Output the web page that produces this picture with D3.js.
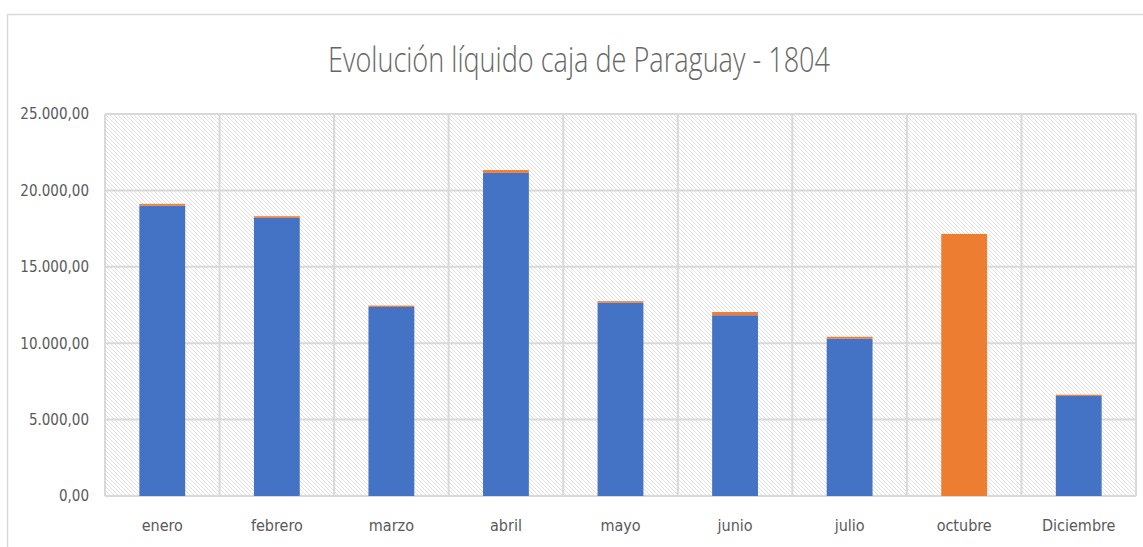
<!DOCTYPE html>
<html>
<head>
<meta charset="utf-8">
<script src="https://cdn.jsdelivr.net/npm/d3@7"></script>
<style>
  body { margin: 0; background: #fff; }
  text { font-family: "DejaVu Sans Condensed", sans-serif; fill: #595959; }
</style>
</head>
<body>
<div id="chart"></div>
<script>
var months = ["enero", "febrero", "marzo", "abril", "mayo", "junio", "julio", "octubre", "Diciembre"]
var blueValues = [19000, 18200, 12370, 21150, 12650, 11830, 10300, 0, 6550]
var orangeValues = [120, 110, 90, 180, 100, 210, 120, 17150, 80]
var yTicks = [0, 5000, 10000, 15000, 20000, 25000]
var title = "Evolución líquido caja de Paraguay - 1804"

var margin = {top: 114, right: 7, bottom: 51, left: 105},
    width = 1143 - margin.left - margin.right,
    height = 547 - margin.top - margin.bottom;

window.onload = function(){
  drawChart()
}

var drawChart = function(){
  var data = []
  for (var i = 0; i < months.length; i++){
    data.push({month: months[i], blue: blueValues[i], orange: orangeValues[i]})
  }

  var root = d3.select("#chart")
    .append("svg")
      .attr("width", 1143)
      .attr("height", 547)

  // hatch fill for plot area
  var pattern = root.append("defs").append("pattern")
    .attr("id", "hatch")
    .attr("patternUnits", "userSpaceOnUse")
    .attr("width", 4).attr("height", 4)
  pattern.append("rect").attr("width", 4).attr("height", 4).attr("fill", "#fff")
  pattern.append("path")
    .attr("d", "M-1,-1 L5,5 M-1,3 L1,5 M3,-1 L5,1")
    .attr("stroke", "#dcdcdc").attr("stroke-width", 0.9)

  // chart border
  root.append("rect")
    .attr("x", 7.5).attr("y", 14.5)
    .attr("width", 1143).attr("height", 547)
    .attr("fill", "none").attr("stroke", "#d9d9d9").attr("stroke-width", 1.5)

  root.append("text")
    .attr("x", 579).attr("y", 72)
    .attr("text-anchor", "middle")
    .attr("textLength", 502)
    .attr("lengthAdjust", "spacingAndGlyphs")
    .style("font-family", "'Open Sans', sans-serif")
    .style("font-weight", 300)
    .style("font-size", "35px")
    .style("fill", "#666")
    .text(title)

  var svg = root.append("g")
    .attr("transform", "translate(" + margin.left + "," + margin.top + ")");

  var x = d3.scaleBand()
    .domain(months)
    .range([0, width])
    .paddingInner(0.6)
    .paddingOuter(0.3)

  var y = d3.scaleLinear()
    .domain([0, 25000])
    .range([height, 0])

  svg.append("rect")
    .attr("width", width).attr("height", height)
    .attr("fill", "url(#hatch)")

  // horizontal grid
  svg.selectAll(".hgrid").data(yTicks).enter().append("line")
    .attr("x1", 0).attr("x2", width)
    .attr("y1", function(d){ return y(d) }).attr("y2", function(d){ return y(d) })
    .attr("stroke", "#d9d9d9").attr("stroke-width", 2)

  // vertical grid at category boundaries
  var step = width / months.length
  svg.selectAll(".vgrid").data(d3.range(months.length + 1)).enter().append("line")
    .attr("x1", function(d){ return d * step }).attr("x2", function(d){ return d * step })
    .attr("y1", 0).attr("y2", height)
    .attr("stroke", "#d9d9d9").attr("stroke-width", 2)

  var fmt = function(v){
    return d3.format(",.2f")(v).replace(/,/g, "#").replace(".", ",").replace(/#/g, ".")
  }

  svg.append("g")
    .call(d3.axisLeft(y).tickValues(yTicks).tickFormat(fmt).tickSize(0).tickPadding(16))
    .call(function(g){ g.select(".domain").remove() })
    .selectAll("text")
      .style("font-size", "15px")
      .attr("fill", "#595959")

  svg.append("g")
    .attr("transform", "translate(0," + height + ")")
    .call(d3.axisBottom(x).tickSize(0).tickPadding(24))
    .call(function(g){ g.select(".domain").remove() })
    .selectAll("text")
      .style("font-size", "16px")
      .attr("fill", "#595959")

  svg.selectAll(".blue").data(data).enter().append("rect")
    .attr("x", function(d){ return x(d.month) })
    .attr("width", x.bandwidth())
    .attr("y", function(d){ return y(d.blue) })
    .attr("height", function(d){ return height - y(d.blue) })
    .attr("fill", "#4472C4")

  svg.selectAll(".orange").data(data).enter().append("rect")
    .attr("x", function(d){ return x(d.month) })
    .attr("width", x.bandwidth())
    .attr("y", function(d){ return y(d.blue + d.orange) })
    .attr("height", function(d){ return y(d.blue) - y(d.blue + d.orange) })
    .attr("fill", "#ED7D31")
}
</script>
</body>
</html>
